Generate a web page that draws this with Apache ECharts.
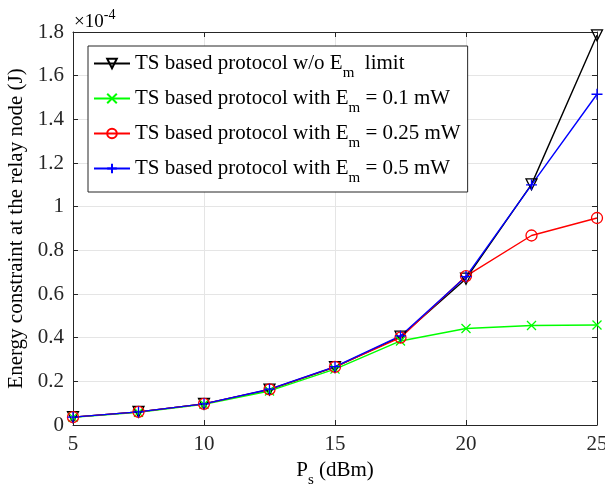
<!DOCTYPE html>
<html><head><meta charset="utf-8">
<script src="https://cdn.jsdelivr.net/npm/echarts@6/dist/echarts.min.js"></script>
<style>html,body{margin:0;padding:0;background:#fff}#c{width:605px;height:495px}</style>
</head><body><div id="c"></div>
<script>
const psDbm = [5, 7.5, 10, 12.5, 15, 17.5, 20, 22.5, 25];
const noLimit = [0.036, 0.060, 0.097, 0.162, 0.265, 0.405, 0.670, 1.102, 1.785];
const em01 = [0.035, 0.058, 0.095, 0.156, 0.256, 0.385, 0.442, 0.456, 0.458];
const em025 = [0.036, 0.060, 0.097, 0.163, 0.266, 0.400, 0.682, 0.868, 0.948];
const em05 = [0.036, 0.060, 0.097, 0.164, 0.267, 0.408, 0.680, 1.100, 1.515];
const seriesNames = ['noLimit', 'em01', 'em025', 'em05'];
const legendLabels = {
  noLimit: '{a|TS based protocol w/o E}{s|m}{a|  limit}',
  em01: '{a|TS based protocol with E}{s|m}{a| = 0.1 mW}',
  em025: '{a|TS based protocol with E}{s|m}{a| = 0.25 mW}',
  em05: '{a|TS based protocol with E}{s|m}{a| = 0.5 mW}'
};
const yTicks = [0, 0.2, 0.4, 0.6, 0.8, 1, 1.2, 1.4, 1.6, 1.8];

const FONT = 'Liberation Serif';
const pair = arr => psDbm.map((x, i) => [x, arr[i]]);
const chart = echarts.init(document.getElementById('c'), null, {renderer: 'canvas'});
const axisCol = '#262626';
const richMain = {fontFamily: FONT, fontSize: 21, color: '#000', lineHeight: 35};
const richSub = {fontFamily: FONT, fontSize: 15, color: '#000', lineHeight: 15, verticalAlign: 'bottom'};
function mk(name, data, color, symbol, size, lw) {
  return {
    name: name, type: 'line', data: pair(data), symbol: symbol, symbolSize: size,
    lineStyle: {color: color, width: lw},
    itemStyle: {color: 'rgba(255,255,255,0)', borderColor: color, borderWidth: 1.3},
    emphasis: {disabled: true}, animation: false, z: 3
  };
}
chart.setOption({
  animation: false,
  grid: {left: 73, right: 8, top: 32, bottom: 70, outerBoundsMode: 'none', containLabel: false},
  legend: {
    orient: 'vertical', left: 88, top: 46,
    backgroundColor: '#fff', borderColor: axisCol, borderWidth: 1,
    padding: [0, 7, 6, 5], itemGap: 0, itemWidth: 36, itemHeight: 12,
    data: seriesNames,
    formatter: n => legendLabels[n],
    textStyle: {fontFamily: FONT, fontSize: 21, lineHeight: 35, color: '#000', rich: {a: richMain, s: richSub}}
  },
  xAxis: [{
    type: 'value', min: 5, max: 25, interval: 5,
    name: '{a|P}{s|s}{a| (dBm)}', nameLocation: 'middle', nameGap: 26,
    nameTextStyle: {rich: {a: richMain, s: richSub}},
    axisLine: {show: true, onZero: false, lineStyle: {color: axisCol, width: 1}},
    axisTick: {inside: true, length: 5, lineStyle: {color: axisCol}},
    axisLabel: {fontFamily: FONT, fontSize: 21, color: axisCol, margin: 9},
    splitLine: {show: true, lineStyle: {color: '#e5e5e5', width: 1}}
  }, {
    type: 'value', min: 5, max: 25, interval: 5, position: 'top',
    axisLine: {show: true, onZero: false, lineStyle: {color: axisCol, width: 1}},
    axisTick: {inside: true, length: 5, lineStyle: {color: axisCol}},
    axisLabel: {show: false}, splitLine: {show: false}
  }],
  yAxis: [{
    type: 'value', min: 0, max: 1.8, interval: 0.2,
    name: 'Energy constraint at the relay node (J)', nameLocation: 'middle', nameGap: 36,
    nameTextStyle: {fontFamily: FONT, fontSize: 21, color: '#000'},
    axisLine: {show: true, onZero: false, lineStyle: {color: axisCol, width: 1}},
    axisTick: {inside: true, length: 5, lineStyle: {color: axisCol}},
    axisLabel: {fontFamily: FONT, fontSize: 21, color: axisCol, margin: 9,
      formatter: v => { const t = yTicks.find(k => Math.abs(k - v) < 1e-9); return String(t !== undefined ? t : +v.toFixed(1)); }},
    splitLine: {show: true, lineStyle: {color: '#e5e5e5', width: 1}}
  }, {
    type: 'value', min: 0, max: 1.8, interval: 0.2, position: 'right',
    axisLine: {show: true, onZero: false, lineStyle: {color: axisCol, width: 1}},
    axisTick: {inside: true, length: 5, lineStyle: {color: axisCol}},
    axisLabel: {show: false}, splitLine: {show: false}
  }],
  graphic: [{
    type: 'text', left: 74, top: 8,
    style: {
      text: '{a|×10}{p|-4}',
      rich: {
        a: {fontFamily: FONT, fontSize: 19, fill: '#000', lineHeight: 29},
        p: {fontFamily: FONT, fontSize: 14, fill: '#000', lineHeight: 14, verticalAlign: 'top'}
      }
    }
  }],
  series: [
    mk('noLimit', noLimit, '#000000', 'path://M0,0 L10,0 L5,9 Z', 11, 1.4),
    mk('em01', em01, '#00ff00', 'path://M0,0 L10,10 M10,0 L0,10', 9, 1.4),
    mk('em025', em025, '#ff0000', 'circle', 11, 1.4),
    mk('em05', em05, '#0000ff', 'path://M5,0 L5,10 M0,5 L10,5', 11, 1.4)
  ]
});
</script></body></html>
